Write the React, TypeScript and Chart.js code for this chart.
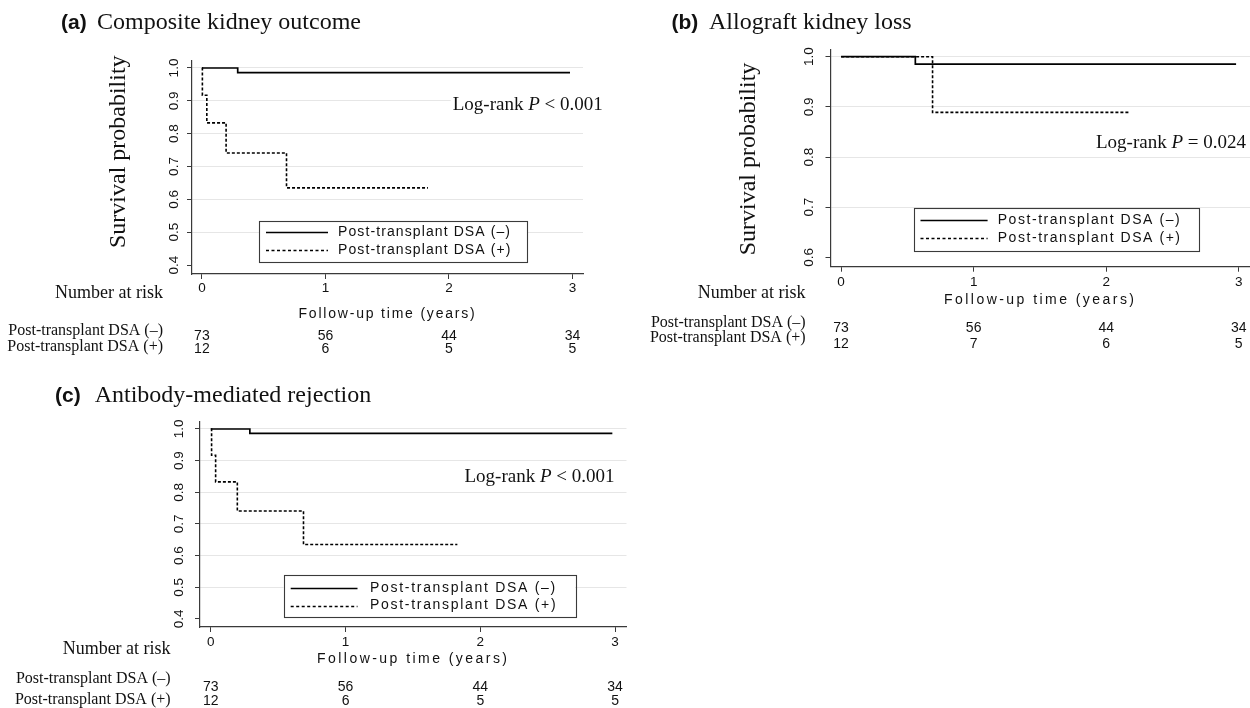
import React, { useEffect, useRef } from "react";
import { Chart, registerables } from "chart.js";

Chart.register(...registerables);

// ---------- data ----------
const X_MIN = -0.08;
const X_MAX = 3.085;
const X_TICKS = [0, 1, 2, 3];
const Y_TICKS_AC = [0.4, 0.5, 0.6, 0.7, 0.8, 0.9, 1.0];
const Y_TICKS_B = [0.6, 0.7, 0.8, 0.9, 1.0];
const SERIES = ["Post-transplant DSA (–)", "Post-transplant DSA (+)"];
const X_TITLE = "Follow-up time (years)";
const Y_TITLE = "Survival probability";
const RISK_TITLE = "Number at risk";
const RISK_TIMES = [0, 1, 2, 3];

// (a) Composite kidney outcome
const A_NEG_TIME = [0, 0.29, 2.98];
const A_NEG_SURV = [1, 0.986, 0.986];
const A_POS_TIME = [0, 0.004, 0.04, 0.196, 0.685, 1.83];
const A_POS_SURV = [1, 0.917, 0.833, 0.741, 0.635, 0.635];
const A_RISK_NEG = [73, 56, 44, 34];
const A_RISK_POS = [12, 6, 5, 5];

// (b) Allograft kidney loss
const B_NEG_TIME = [0, 0.56, 2.98];
const B_NEG_SURV = [1, 0.985, 0.985];
const B_POS_TIME = [0, 0.69, 2.18];
const B_POS_SURV = [1, 0.889, 0.889];
const B_RISK_NEG = [73, 56, 44, 34];
const B_RISK_POS = [12, 7, 6, 5];

// (c) Antibody-mediated rejection
const C_NEG_TIME = [0, 0.29, 2.98];
const C_NEG_SURV = [1, 0.986, 0.986];
const C_POS_TIME = [0, 0.006, 0.036, 0.197, 0.688, 1.83];
const C_POS_SURV = [1, 0.917, 0.833, 0.741, 0.635, 0.635];
const C_RISK_NEG = [73, 56, 44, 34];
const C_RISK_POS = [12, 6, 5, 5];

// ---------- styles ----------
const SANS = "'Liberation Sans', Arial, sans-serif";
const SERIF = "'Liberation Serif', 'Times New Roman', serif";
const INK = "#111111";
const AXIS = "#3a3a3a";
const GRID = "#e6e6e6";
const SANS_SIZE = 14;
const TICK_SIZE = 13.5;

type Panel = {
  key: string;
  px: number; py: number; w: number; h: number;
  area: { left: number; right: number; top: number; bottom: number };
  yMin: number; yMax: number; yTicks: number[]; yPad: number; xPad: number;
  tag: string; tagX: number; title: string; titleX: number; titleY: number;
  yTitle?: { x: number; y: number };
  logrank: { x: number; y: number; op: string; val: string };
  legend: { x0: number; x1: number; y0: number; y1: number; r1: number; r2: number; s0: number; s1: number; tx: number; sp: number };
  followY: number; followSp: number;
  riskRight: number; headY: number; row1Y: number; row2Y: number; num1Y: number; num2Y: number;
  negT: number[]; negS: number[]; posT: number[]; posS: number[];
  riskNeg: number[]; riskPos: number[];
};

const PANELS: Panel[] = [
  {
    key: "a", px: 0, py: 0, w: 620, h: 360,
    area: { left: 192, right: 583, top: 61, bottom: 274 },
    yMin: 0.3726, yMax: 1.0213, yTicks: Y_TICKS_AC, yPad: 3, xPad: 1,
    tag: "(a)", tagX: 61, title: "Composite kidney outcome", titleX: 97, titleY: 29,
    yTitle: { x: 118.6, y: 151.7 },
    logrank: { x: 452.7, y: 105, op: "<", val: "0.001" },
    legend: { x0: 259, x1: 527, y0: 221, y1: 262, r1: 232.3, r2: 250, s0: 266, s1: 328, tx: 338, sp: 1.1 },
    followY: 314, followSp: 1.8,
    riskRight: 163, headY: 293.3, row1Y: 331, row2Y: 347, num1Y: 336.5, num2Y: 349.5,
    negT: A_NEG_TIME, negS: A_NEG_SURV, posT: A_POS_TIME, posS: A_POS_SURV,
    riskNeg: A_RISK_NEG, riskPos: A_RISK_POS,
  },
  {
    key: "b", px: 620, py: 0, w: 630, h: 360,
    area: { left: 210.5, right: 630, top: 49.3, bottom: 266.7 },
    yMin: 0.5815, yMax: 1.0147, yTicks: Y_TICKS_B, yPad: 7, xPad: 2,
    tag: "(b)", tagX: 51.4, title: "Allograft kidney loss", titleX: 89, titleY: 29.3,
    yTitle: { x: 128.6, y: 159 },
    logrank: { x: 476, y: 143, op: "=", val: "0.024" },
    legend: { x0: 294, x1: 579, y0: 208, y1: 250.7, r1: 220, r2: 238.3, s0: 300.5, s1: 367.6, tx: 377.7, sp: 1.55 },
    followY: 300, followSp: 2.45,
    riskRight: 185.6, headY: 293.3, row1Y: 322.7, row2Y: 338, num1Y: 328.3, num2Y: 344.3,
    negT: B_NEG_TIME, negS: B_NEG_SURV, posT: B_POS_TIME, posS: B_POS_SURV,
    riskNeg: B_RISK_NEG, riskPos: B_RISK_POS,
  },
  {
    key: "c", px: 0, py: 360, w: 640, h: 348,
    area: { left: 200, right: 626.5, top: 61.7, bottom: 267 },
    yMin: 0.3747, yMax: 1.023, yTicks: Y_TICKS_AC, yPad: 6, xPad: 2,
    tag: "(c)", tagX: 55, title: "Antibody-mediated rejection", titleX: 94.7, titleY: 41.7,
    logrank: { x: 464.5, y: 116.7, op: "<", val: "0.001" },
    legend: { x0: 283.5, x1: 575, y0: 215, y1: 256.7, r1: 228, r2: 245.5, s0: 290.7, s1: 357.5, tx: 370, sp: 1.7 },
    followY: 299.3, followSp: 2.45,
    riskRight: 170.6, headY: 289.3, row1Y: 318.5, row2Y: 339.5, num1Y: 327, num2Y: 341,
    negT: C_NEG_TIME, negS: C_NEG_SURV, posT: C_POS_TIME, posS: C_POS_SURV,
    riskNeg: C_RISK_NEG, riskPos: C_RISK_POS,
  },
];

function drawText(
  ctx: CanvasRenderingContext2D, s: string, x: number, y: number, font: string,
  align: CanvasTextAlign, spacing = 0, baseline: CanvasTextBaseline = "middle"
) {
  ctx.save();
  ctx.font = font;
  ctx.fillStyle = INK;
  ctx.textAlign = align;
  ctx.textBaseline = baseline;
  (ctx as any).letterSpacing = spacing + "px";
  ctx.fillText(s, x, y);
  ctx.restore();
}

function overlay(p: Panel) {
  return {
    id: "overlay-" + p.key,
    afterDraw(chart: any) {
      const ctx: CanvasRenderingContext2D = chart.ctx;
      const xs = chart.scales.x;
      const ca = chart.chartArea;

      // panel title
      drawText(ctx, p.tag, p.tagX, p.titleY, `bold 21px ${SANS}`, "left", 0, "alphabetic");
      drawText(ctx, p.title, p.titleX, p.titleY, `24px ${SERIF}`, "left", 0, "alphabetic");

      // y axis title
      if (p.yTitle) {
        ctx.save();
        ctx.translate(p.yTitle.x, p.yTitle.y);
        ctx.rotate(-Math.PI / 2);
        drawText(ctx, Y_TITLE, 0, 0, `24px ${SERIF}`, "center");
        ctx.restore();
      }

      // log-rank text
      {
        const lr = p.logrank;
        const fN = `19px ${SERIF}`;
        const fI = `italic 19px ${SERIF}`;
        const parts: [string, string][] = [["Log-rank ", fN], ["P", fI], [` ${lr.op} ${lr.val}`, fN]];
        ctx.save();
        let total = 0;
        const widths = parts.map(([t, f]) => { ctx.font = f; const w = ctx.measureText(t).width; total += w; return w; });
        ctx.fillStyle = "#ffffff";
        ctx.fillRect(lr.x - 2, lr.y - 9, total + 4, 19);
        ctx.restore();
        let x = lr.x;
        parts.forEach(([t, f], i) => { drawText(ctx, t, x, lr.y, f, "left"); x += widths[i]; });
      }

      // legend
      {
        const L = p.legend;
        const ds = chart.data.datasets;
        ctx.save();
        ctx.fillStyle = "#ffffff";
        ctx.fillRect(L.x0, L.y0, L.x1 - L.x0, L.y1 - L.y0);
        ctx.strokeStyle = AXIS;
        ctx.lineWidth = 1.1;
        ctx.strokeRect(Math.round(L.x0) + 0.5, Math.round(L.y0) + 0.5, Math.round(L.x1 - L.x0), Math.round(L.y1 - L.y0));
        [L.r1, L.r2].forEach((ry, i) => {
          ctx.beginPath();
          ctx.strokeStyle = "#000";
          ctx.lineWidth = 1.4;
          ctx.setLineDash(i === 0 ? [] : [3, 2.5]);
          ctx.moveTo(L.s0, Math.round(ry) + 0.5);
          ctx.lineTo(L.s1, Math.round(ry) + 0.5);
          ctx.stroke();
        });
        ctx.setLineDash([]);
        ctx.restore();
        drawText(ctx, ds[0].label, L.tx, L.r1, `${SANS_SIZE}px ${SANS}`, "left", L.sp);
        drawText(ctx, ds[1].label, L.tx, L.r2, `${SANS_SIZE}px ${SANS}`, "left", L.sp);
      }

      // x axis title
      drawText(ctx, X_TITLE, (ca.left + ca.right) / 2, p.followY, `${SANS_SIZE}px ${SANS}`, "center", p.followSp);

      // number at risk table
      drawText(ctx, RISK_TITLE, p.riskRight, p.headY, `18px ${SERIF}`, "right");
      drawText(ctx, SERIES[0], p.riskRight, p.row1Y, `16px ${SERIF}`, "right");
      drawText(ctx, SERIES[1], p.riskRight, p.row2Y, `16px ${SERIF}`, "right");
      RISK_TIMES.forEach((t, i) => {
        const x = xs.getPixelForValue(t);
        drawText(ctx, String(p.riskNeg[i]), x, p.num1Y, `${SANS_SIZE}px ${SANS}`, "center", 0);
        drawText(ctx, String(p.riskPos[i]), x, p.num2Y, `${SANS_SIZE}px ${SANS}`, "center", 0);
      });
    },
  };
}

function buildConfig(p: Panel): any {
  const lowest = p.yTicks[0];
  return {
    type: "line",
    data: {
      datasets: [
        {
          label: SERIES[0],
          data: p.negT.map((t, i) => ({ x: t, y: p.negS[i] })),
          borderColor: "#000",
          borderWidth: 1.7,
          stepped: true,
          pointRadius: 0,
          fill: false,
        },
        {
          label: SERIES[1],
          data: p.posT.map((t, i) => ({ x: t, y: p.posS[i] })),
          borderColor: "#000",
          borderWidth: 1.6,
          borderDash: [3, 2],
          stepped: true,
          pointRadius: 0,
          fill: false,
        },
      ],
    },
    options: {
      animation: false,
      responsive: false,
      maintainAspectRatio: false,
      events: [],
      layout: { padding: { left: 0, top: p.area.top, right: p.w - p.area.right, bottom: 0 } },
      plugins: { legend: { display: false }, tooltip: { enabled: false }, title: { display: false } },
      scales: {
        x: {
          type: "linear",
          min: X_MIN,
          max: X_MAX,
          afterBuildTicks: (s: any) => { s.ticks = X_TICKS.map((v) => ({ value: v })); },
          afterFit: (s: any) => { s.height = p.h - p.area.bottom; },
          grid: { display: true, drawOnChartArea: false, drawTicks: true, tickLength: 5, tickColor: AXIS, tickWidth: 1 },
          border: { display: true, color: AXIS, width: 1.2 },
          ticks: {
            font: { family: SANS, size: TICK_SIZE },
            color: INK,
            padding: p.xPad,
            maxRotation: 0,
            minRotation: 0,
            autoSkip: false,
            callback: (v: any) => String(v),
          },
        },
        y: {
          type: "linear",
          min: p.yMin,
          max: p.yMax,
          afterBuildTicks: (s: any) => { s.ticks = p.yTicks.map((v) => ({ value: v })); },
          afterFit: (s: any) => { s.width = p.area.left; },
          grid: {
            display: true,
            drawOnChartArea: true,
            color: (c: any) => (c.tick && Math.abs(c.tick.value - lowest) < 1e-9 ? "rgba(0,0,0,0)" : GRID),
            lineWidth: 1,
            drawTicks: true,
            tickLength: 5,
            tickColor: AXIS,
            tickWidth: 1,
          },
          border: { display: true, color: AXIS, width: 1.2 },
          ticks: {
            font: { family: SANS, size: TICK_SIZE },
            color: INK,
            padding: p.yPad,
            minRotation: 90,
            maxRotation: 90,
            crossAlign: "center",
            autoSkip: false,
            callback: (v: any) => Number(v).toFixed(1),
          },
        },
      },
    },
    plugins: [overlay(p)],
  };
}

function PanelChart({ p }: { p: Panel }) {
  const ref = useRef<HTMLCanvasElement>(null);
  useEffect(() => {
    if (!ref.current) return;
    const chart = new Chart(ref.current, buildConfig(p));
    return () => chart.destroy();
  }, [p]);
  return (
    <canvas
      ref={ref}
      width={p.w}
      height={p.h}
      style={{ position: "absolute", left: p.px, top: p.py, width: p.w, height: p.h }}
    />
  );
}

export default function App() {
  useEffect(() => {
    document.body.style.margin = "0";
    document.body.style.overflow = "hidden";
  }, []);
  return (
    <div style={{ position: "absolute", left: 0, top: 0, width: 1250, height: 708, background: "#ffffff", overflow: "hidden" }}>
      {PANELS.map((p) => (
        <PanelChart key={p.key} p={p} />
      ))}
    </div>
  );
}
